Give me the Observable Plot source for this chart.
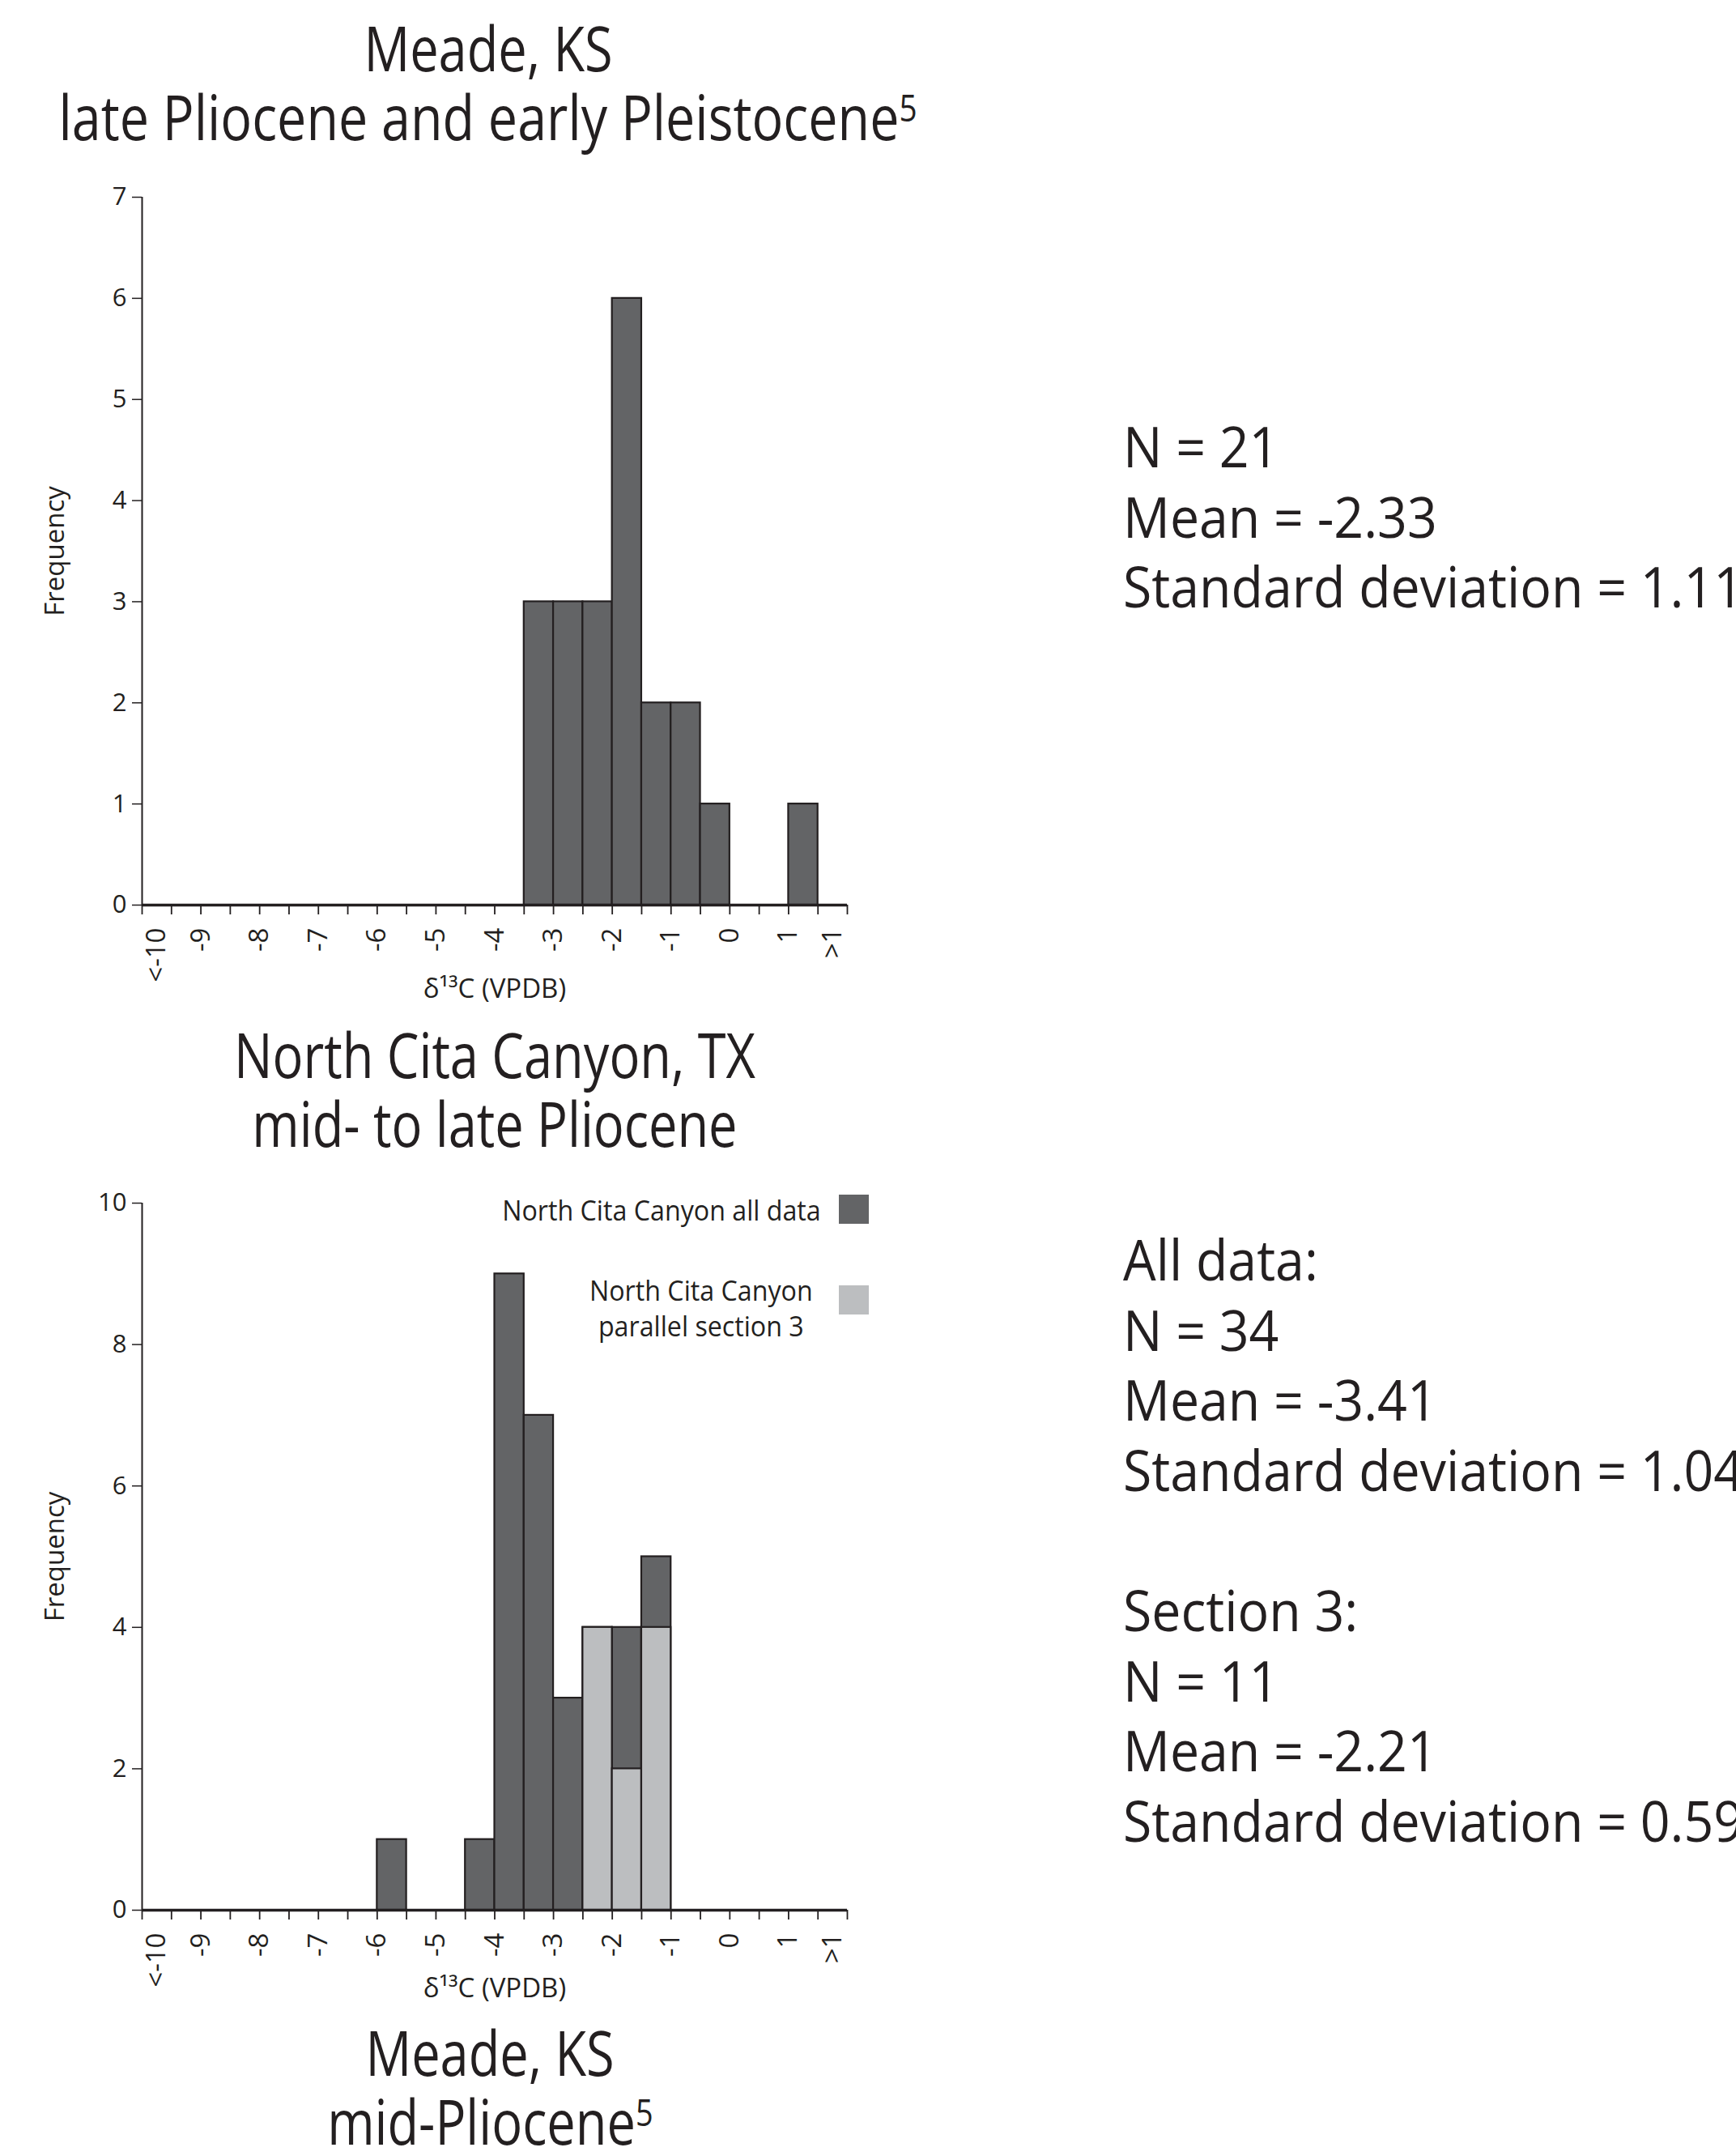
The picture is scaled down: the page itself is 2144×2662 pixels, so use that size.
<!DOCTYPE html>
<html>
<head>
<meta charset="utf-8">
<script src="https://cdn.jsdelivr.net/npm/d3@7"></script>
<script src="https://cdn.jsdelivr.net/npm/@observablehq/plot@0.6"></script>
<style>
html, body { margin: 0; padding: 0; background: #fff; }
body { width: 2144px; height: 2662px; overflow: hidden; position: relative; font-family: "Open Sans", sans-serif; color: #231f20; }
.title { position: absolute; width: 1600px; text-align: center; font-size: 76px; line-height: 85px; white-space: nowrap; }
.title span { display: inline-block; transform: scaleX(0.83); transform-origin: center; }
.title span.wide { transform: scaleX(0.85); }
.title sup { font-size: 0.6em; vertical-align: 0.5em; line-height: 0; }
.stats { position: absolute; left: 1387px; font-size: 70px; line-height: 86.6px; white-space: nowrap; transform: scaleX(0.92); transform-origin: left top; }
.chart { position: absolute; left: 0; }
.legtext { position: absolute; font-size: 35px; line-height: 44px; white-space: nowrap; text-align: center; }
.legtext span { display: inline-block; transform: scaleX(0.92); }
.swatch { position: absolute; width: 37px; height: 36px; }
</style>
</head>
<body>
<div class="title" style="left:-197px; top:16px;"><span>Meade, KS</span><br><span class="wide">late Pliocene and early Pleistocene<sup>5</sup></span></div>
<div class="title" style="left:-189px; top:1259px;"><span>North Cita Canyon, TX</span><br><span>mid- to late Pliocene</span></div>
<div class="title" style="left:-195px; top:2491px;"><span>Meade, KS</span><br><span>mid-Pliocene<sup>5</sup></span></div>

<div id="chart1" class="chart" style="top:220px;"></div>
<div id="chart2" class="chart" style="top:1460px;"></div>

<div class="legtext" style="right:1130px; top:1472px;"><span style="transform-origin:right center;">North Cita Canyon all data</span></div>
<div class="swatch" style="left:1036px; top:1475px; background:#636466;"></div>
<div class="legtext" style="left:566px; width:600px; top:1571px;"><span>North Cita Canyon<br>parallel section 3</span></div>
<div class="swatch" style="left:1036px; top:1587px; background:#bcbec0;"></div>

<div class="stats" style="top:507px;">N = 21<br>Mean = -2.33<br>Standard deviation = 1.11</div>
<div class="stats" style="top:1511px;">All data:<br>N = 34<br>Mean = -3.41<br>Standard deviation = 1.04<br>&nbsp;<br>Section 3:<br>N = 11<br>Mean = -2.21<br>Standard deviation = 0.59</div>

<script>
// Bin starts (0.5-wide bins); first bin is "<-10", last bin is ">1"
const binStarts = [-10, -9.5, -9, -8.5, -8, -7.5, -7, -6.5, -6, -5.5, -5, -4.5, -4, -3.5, -3, -2.5, -2, -1.5, -1, -0.5, 0, 0.5, 1, 1.5];
const binWidth = 0.5;
const axisEnd = 2;

// Meade, KS late Pliocene and early Pleistocene (N = 21)
const meadeLateCounts = [0, 0, 0, 0, 0, 0, 0, 0, 0, 0, 0, 0, 0, 3, 3, 3, 6, 2, 2, 1, 0, 0, 1, 0];
// North Cita Canyon all data (N = 34)
const citaAllCounts = [0, 0, 0, 0, 0, 0, 0, 0, 1, 0, 0, 1, 9, 7, 3, 4, 4, 5, 0, 0, 0, 0, 0, 0];
// North Cita Canyon parallel section 3
const citaSec3Counts = [0, 0, 0, 0, 0, 0, 0, 0, 0, 0, 0, 0, 0, 0, 0, 4, 2, 4, 0, 0, 0, 0, 0, 0];

// x tick labels
const xLabelValues = [-9.75, -9, -8, -7, -6, -5, -4, -3, -2, -1, 0, 1, 1.75];
const xLabelTexts = ["<-10", "-9", "-8", "-7", "-6", "-5", "-4", "-3", "-2", "-1", "0", "1", ">1"];
const meadeYTicks = [0, 1, 2, 3, 4, 5, 6, 7];
const citaYTicks = [0, 2, 4, 6, 8, 10];

const INK = "#231f20";
const DARK = "#636466";
const LIGHT = "#bcbec0";

function histogram({counts, overlay, yMax, yTicks, marginTop, marginBottom, labelDy}) {
  const rows = binStarts.map((x0, i) => ({x1: x0, x2: x0 + binWidth, count: counts[i], sec: overlay ? overlay[i] : 0}));
  const edges = binStarts.concat([axisEnd]);
  const labelMap = new Map(xLabelValues.map((v, i) => [v, xLabelTexts[i]]));
  return Plot.plot({
    width: 1100,
    height: 1030,
    marginLeft: 175,
    marginRight: 54,
    marginTop,
    marginBottom,
    style: {fontFamily: "'Open Sans', sans-serif", fontSize: "31px", color: INK, background: "transparent", overflow: "visible"},
    x: {domain: [binStarts[0], axisEnd], axis: null},
    y: {domain: [0, yMax], axis: null},
    marks: [
      Plot.rectY(rows.filter(d => d.count > 0), {x1: "x1", x2: "x2", y: "count", fill: DARK, stroke: INK, strokeWidth: 2.2}),
      overlay ? Plot.rectY(rows.filter(d => d.sec > 0), {x1: "x1", x2: "x2", y: "sec", fill: LIGHT, stroke: INK, strokeWidth: 2.2}) : null,
      Plot.ruleY([0], {stroke: INK, strokeWidth: 3.5}),
      Plot.ruleX([binStarts[0]], {stroke: INK, strokeWidth: 2}),
      Plot.axisY({ticks: yTicks, tickSize: 12, tickPadding: 7, tickFormat: d => String(d), label: null, fontSize: 31, strokeWidth: 1.5}),
      Plot.axisX({ticks: edges, tickSize: 12, tickFormat: () => "", label: null, strokeWidth: 1.8}),
      Plot.axisX({ticks: xLabelValues, tickSize: 0, tickPadding: 28, tickRotate: -90, tickFormat: d => labelMap.get(d), label: null, fontSize: 33}),
      Plot.text(["δ¹³C (VPDB)"], {frameAnchor: "bottom", dy: labelDy, fontSize: 33, fill: INK}),
      Plot.text(["Frequency"], {frameAnchor: "left", dx: -107, rotate: -90, textAnchor: "middle", fontSize: 33, fill: INK})
    ]
  });
}

document.getElementById("chart1").appendChild(histogram({counts: meadeLateCounts, yMax: 7, yTicks: meadeYTicks, marginTop: 23, marginBottom: 133, labelDy: 114}));
document.getElementById("chart2").appendChild(histogram({counts: citaAllCounts, overlay: citaSec3Counts, yMax: 10, yTicks: citaYTicks, marginTop: 25, marginBottom: 132, labelDy: 107}));
</script>
</body>
</html>
